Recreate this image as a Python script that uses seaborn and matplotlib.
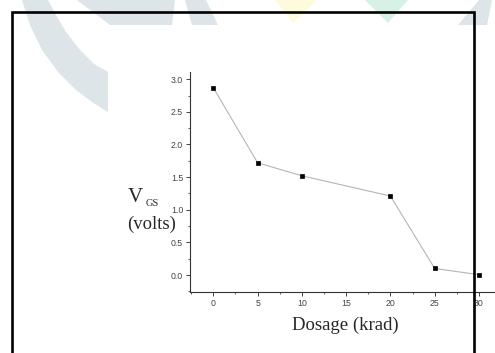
import matplotlib
matplotlib.use("Agg")
import matplotlib.pyplot as plt
import seaborn as sns
import pandas as pd
from matplotlib.patches import Polygon, Rectangle
from matplotlib.ticker import AutoMinorLocator

# data
dosage = [0, 5, 10, 20, 25, 30]
vgs = [2.87, 1.72, 1.52, 1.21, 0.10, 0.005]
x_ticks = [0, 5, 10, 15, 20, 25, 30]
y_ticks = [0.0, 0.5, 1.0, 1.5, 2.0, 2.5, 3.0]

df = pd.DataFrame({"Dosage": dosage, "VGS": vgs})

W, H = 495, 353
sns.set_style("ticks")
plt.rcParams["font.family"] = ["Liberation Sans", "DejaVu Sans"]

fig = plt.figure(figsize=(W / 100, H / 100), dpi=100)
fig.patch.set_facecolor("white")


def px(x, y):
    # top-left pixel -> figure fraction
    return (x / W, 1 - y / H)


# faint watermark behind the chart
wm_gray = "#dde5e8"
shapes = [
    ([(22, 0), (30, 25), (42, 50), (58, 72), (76, 90), (92, 102), (108, 112),
      (108, 72), (94, 64), (80, 50), (66, 32), (56, 15), (48, 0)], wm_gray),
    ([(77, 0), (175, 0), (172, 25), (110, 25)], wm_gray),
    ([(185, 0), (206, 0), (218, 25), (192, 25)], wm_gray),
    ([(275, 0), (317, 0), (293, 23)], "#fdfbdc"),
    ([(365, 0), (408, 0), (388, 23)], "#d8f1e6"),
    ([(458, 25), (479, 0), (492, 0), (487, 25)], wm_gray),
]
for pts, col in shapes:
    fig.add_artist(Polygon([px(*p) for p in pts], closed=True, facecolor=col,
                           edgecolor="none", transform=fig.transFigure, zorder=0))

# axes placed so the spines fall where they do in the picture
ax = fig.add_axes([190 / W, (H - 292) / H, 320 / W, 220 / H])
ax.set_facecolor("none")

sns.lineplot(data=df, x="Dosage", y="VGS", ax=ax, color="#b5b5b5", linewidth=0.8,
             marker="s", markersize=3.4, markerfacecolor="black",
             markeredgecolor="black", markeredgewidth=0.5)

ax.set_xlim(-2.63, 33.5)
ax.set_ylim(-0.26, 3.11)
ax.set_xticks(x_ticks)
ax.set_yticks(y_ticks)
ax.set_yticklabels([f"{v:.1f}" for v in y_ticks])
ax.xaxis.set_minor_locator(AutoMinorLocator(2))
ax.yaxis.set_minor_locator(AutoMinorLocator(2))
ax.tick_params(which="major", direction="out", length=3, width=0.7,
               color="#444444", labelsize=6.3, labelcolor="#444444", pad=2)
ax.tick_params(which="minor", direction="out", length=1.6, width=0.6, color="#444444")
for side in ["top", "right"]:
    ax.spines[side].set_visible(False)
for side in ["left", "bottom"]:
    ax.spines[side].set_linewidth(0.8)
    ax.spines[side].set_color("#333333")
ax.set_xlabel("")
ax.set_ylabel("")

# axis titles in serif, as in the picture
serif = ["Liberation Serif", "DejaVu Serif"]
fig.text(*px(128, 202), "V", family=serif, fontsize=15, ha="left", va="baseline")
fig.text(*px(146, 206), "GS", family=serif, fontsize=7.5, ha="left", va="baseline")
fig.text(*px(127, 224), "(volts)", family=serif, fontsize=13.5, ha="left", va="center")
fig.text(*px(345, 325), "Dosage (krad)", family=serif, fontsize=13.5,
         ha="center", va="center")

# black frame drawn over the chart
fig.add_artist(Rectangle(px(12, 400), 461.5 / W, 388 / H, fill=False,
                         edgecolor="black", linewidth=1.9,
                         transform=fig.transFigure, zorder=10))

fig.savefig("out.png", dpi=100)
